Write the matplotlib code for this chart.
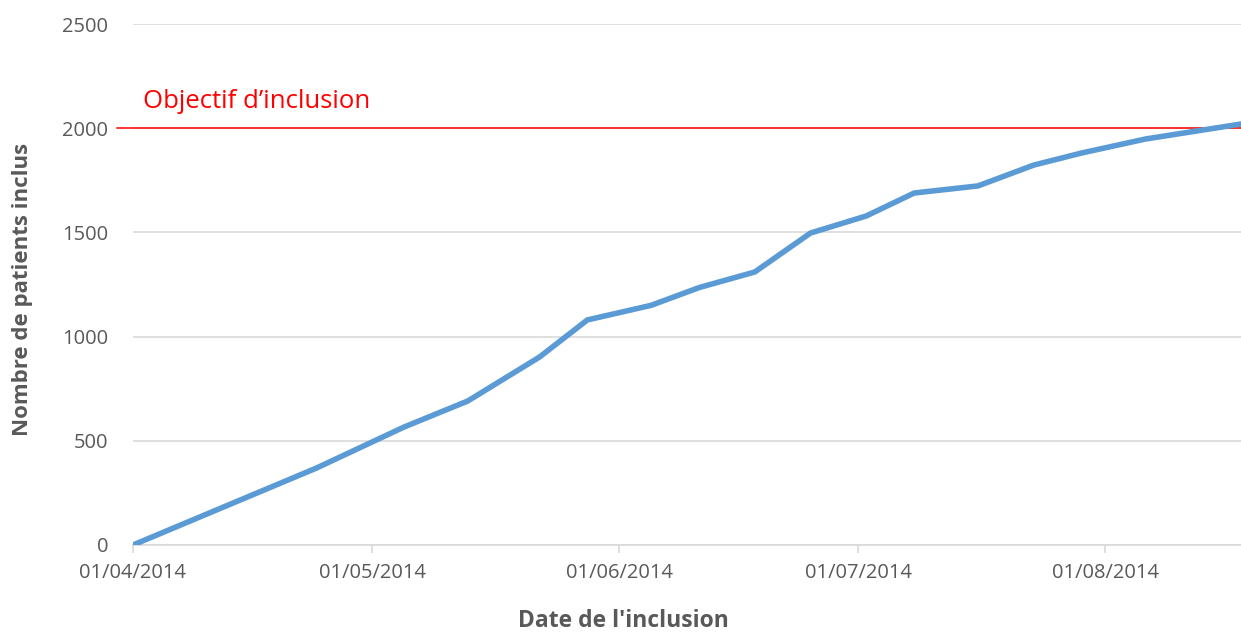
import numpy as np
import pandas as pd
import matplotlib.pyplot as plt
import matplotlib.dates as mdates
import matplotlib.transforms as mtransforms

# Données (cumul des inclusions)
dates = ["2014-04-01", "2014-04-24", "2014-05-05", "2014-05-13", "2014-05-22",
         "2014-05-28", "2014-06-05", "2014-06-11", "2014-06-18", "2014-06-25",
         "2014-07-02", "2014-07-08", "2014-07-16", "2014-07-23", "2014-07-29",
         "2014-08-06", "2014-08-18"]
patients = [0, 369, 566, 691, 902, 1080, 1150, 1235, 1310, 1497,
            1579, 1689, 1723, 1823, 1881, 1948, 2020]
objectif = 2000
y_ticks = [0, 500, 1000, 1500, 2000, 2500]
x_ticks = ["2014-04-01", "2014-05-01", "2014-06-01", "2014-07-01", "2014-08-01"]

dates = pd.to_datetime(dates)
x_ticks = pd.to_datetime(x_ticks)

plt.rcParams["font.family"] = ["Open Sans", "DejaVu Sans"]

fig = plt.figure(figsize=(12.41, 6.33), dpi=100)
ax = fig.add_axes([133 / 1241, 1 - 545 / 633, (1241 - 133) / 1241, (545 - 24) / 633])

ax.plot(dates, patients, color="#5B9BD5", lw=4.0, solid_capstyle="round", zorder=3)

# ligne d'objectif (dépasse un peu à gauche de l'axe)
trans = mtransforms.blended_transform_factory(ax.transAxes, ax.transData)
ax.plot([-0.014, 1], [objectif, objectif], color="#FF0000", lw=1.1,
        transform=trans, clip_on=False, zorder=2)
ax.text(0.009, objectif + 70, "Objectif d\u2019inclusion", color="#FF0000",
        fontsize=18.5, transform=trans, va="bottom", ha="left")

ax.set_xlim(dates[0], dates[-1])
ax.set_ylim(0, 2500)
ax.set_yticks(y_ticks)
ax.set_xticks(x_ticks)
ax.xaxis.set_major_formatter(mdates.DateFormatter("%d/%m/%Y"))

ax.grid(axis="y", color="#D9D9D9", lw=1.2)
ax.set_axisbelow(True)
for s in ["top", "right", "left"]:
    ax.spines[s].set_visible(False)
ax.spines["bottom"].set_color("#D9D9D9")
ax.spines["bottom"].set_linewidth(1.2)

ax.tick_params(axis="y", length=0, pad=18, labelsize=14.5, labelcolor="#595959")
ax.tick_params(axis="x", length=6, width=1.2, color="#D9D9D9", pad=7,
               labelsize=14.5, labelcolor="#595959")

ax.set_xlabel("Date de l'inclusion", fontsize=16.5, fontweight="bold", color="#595959")
ax.set_ylabel("Nombre de patients inclus", fontsize=16, fontweight="bold", color="#595959")
ax.xaxis.set_label_coords(0.443, -0.122)
ax.yaxis.set_label_coords(-0.090, 0.49)

fig.savefig("out.png", dpi=100)
